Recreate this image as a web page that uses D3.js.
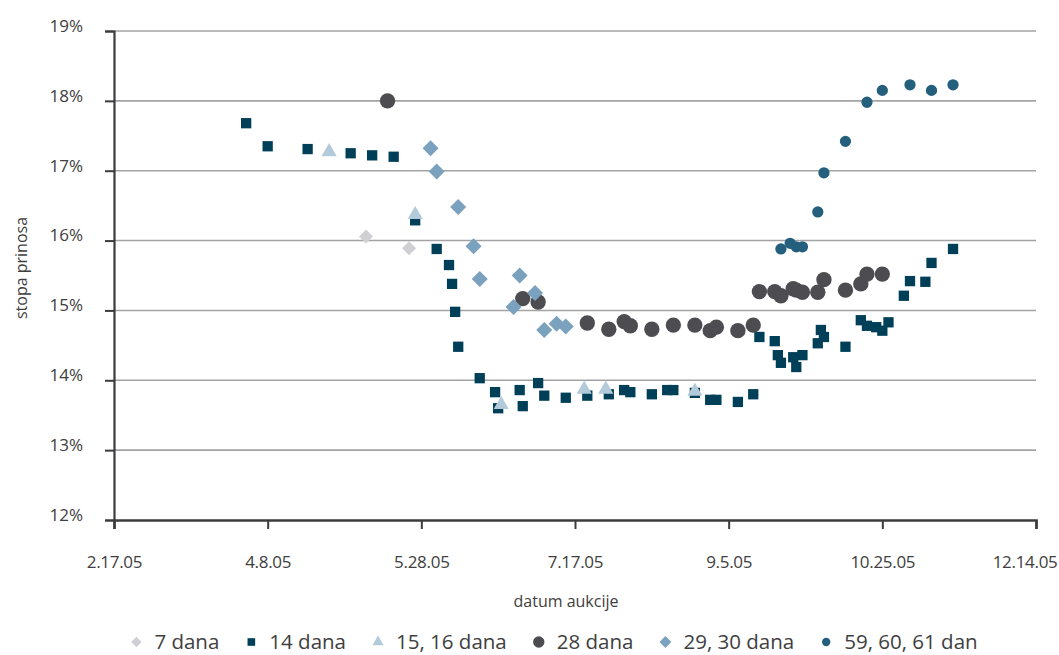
<!DOCTYPE html>
<html>
<head>
<meta charset="utf-8">
<script src="https://cdn.jsdelivr.net/npm/d3@7"></script>
<style>
  body { margin: 0; background: #fff; }
  text { font-family: "Open Sans", sans-serif; fill: #404040; }
</style>
</head>
<body>
<div class="chart"></div>
<script>

var margin = { top: 31, right: 23, bottom: 135, left: 114 },
  width = 1059 - margin.left - margin.right,
  height = 655 - margin.top - margin.bottom;

// auction dates and yields (%), one pair of arrays per maturity
var dates7 = ['2005-05-10', '2005-05-24'];
var rates7 = [16.06, 15.89];

var dates14 = ['2005-04-01', '2005-04-08', '2005-04-21', '2005-05-05', '2005-05-12', '2005-05-19',
  '2005-05-26', '2005-06-02', '2005-06-06', '2005-06-07', '2005-06-08', '2005-06-09',
  '2005-06-16', '2005-06-21', '2005-06-22', '2005-06-29', '2005-06-30', '2005-07-05',
  '2005-07-07', '2005-07-14', '2005-07-21', '2005-07-28', '2005-08-02', '2005-08-04',
  '2005-08-11', '2005-08-16', '2005-08-18', '2005-08-25', '2005-08-30', '2005-09-01',
  '2005-09-08', '2005-09-13', '2005-09-15', '2005-09-20', '2005-09-21', '2005-09-22',
  '2005-09-26', '2005-09-27', '2005-09-29', '2005-10-04', '2005-10-05', '2005-10-06',
  '2005-10-13', '2005-10-18', '2005-10-20', '2005-10-23', '2005-10-25', '2005-10-27',
  '2005-11-01', '2005-11-03', '2005-11-08', '2005-11-10', '2005-11-17'];
var rates14 = [17.68, 17.35, 17.31, 17.25, 17.22, 17.20,
  16.29, 15.88, 15.65, 15.38, 14.98, 14.48,
  14.03, 13.83, 13.60, 13.86, 13.63, 13.96,
  13.78, 13.75, 13.78, 13.80, 13.86, 13.83,
  13.80, 13.86, 13.86, 13.82, 13.72, 13.72,
  13.69, 13.80, 14.62, 14.56, 14.36, 14.25,
  14.33, 14.19, 14.36, 14.53, 14.72, 14.62,
  14.48, 14.86, 14.78, 14.76, 14.71, 14.83,
  15.21, 15.42, 15.41, 15.68, 15.88];

var dates15 = ['2005-04-28', '2005-05-26', '2005-06-23', '2005-07-20', '2005-07-27', '2005-08-25'];
var rates15 = [17.27, 16.37, 13.65, 13.87, 13.87, 13.84];

var dates28 = ['2005-05-17', '2005-06-30', '2005-07-05', '2005-07-21', '2005-07-28', '2005-08-02',
  '2005-08-04', '2005-08-11', '2005-08-18', '2005-08-25', '2005-08-30', '2005-09-01',
  '2005-09-08', '2005-09-13', '2005-09-15', '2005-09-20', '2005-09-22', '2005-09-26',
  '2005-09-27', '2005-09-29', '2005-10-04', '2005-10-06', '2005-10-13', '2005-10-18',
  '2005-10-20', '2005-10-25'];
var rates28 = [18.00, 15.17, 15.12, 14.82, 14.73, 14.84,
  14.78, 14.73, 14.79, 14.79, 14.71, 14.76,
  14.71, 14.79, 15.27, 15.27, 15.21, 15.31,
  15.29, 15.26, 15.26, 15.44, 15.29, 15.38,
  15.52, 15.52];

var dates29 = ['2005-05-31', '2005-06-02', '2005-06-09', '2005-06-14', '2005-06-16', '2005-06-27',
  '2005-06-29', '2005-07-04', '2005-07-07', '2005-07-11', '2005-07-14'];
var rates29 = [17.32, 16.99, 16.48, 15.92, 15.45, 15.05, 15.50, 15.25, 14.72, 14.81, 14.77];

var dates59 = ['2005-09-22', '2005-09-25', '2005-09-27', '2005-09-29', '2005-10-04', '2005-10-06',
  '2005-10-13', '2005-10-20', '2005-10-25', '2005-11-03', '2005-11-10', '2005-11-17'];
var rates59 = [15.88, 15.96, 15.91, 15.91, 16.41, 16.97, 17.42, 17.98, 18.15, 18.23, 18.15, 18.23];

var seriesNames = ['7 dana', '14 dana', '15, 16 dana', '28 dana', '29, 30 dana', '59, 60, 61 dan'];

var xTicks = ['2005-02-17', '2005-04-08', '2005-05-28', '2005-07-17', '2005-09-05', '2005-10-25', '2005-12-14'];
var yTicks = [12, 13, 14, 15, 16, 17, 18, 19];

var parse = d3.utcParse('%Y-%m-%d');

// marker look for each series (same order as seriesNames)
var styles = [
  { shape: 'diamond', size: 98, color: '#cfcfd4' },
  { shape: 'square', size: 106, color: '#003f58' },
  { shape: 'triangle', size: 100, color: '#b3cadb' },
  { shape: 'circle', size: 185, color: '#4c4c51' },
  { shape: 'diamond', size: 128, color: '#7aa1bd' },
  { shape: 'circle', size: 100, color: '#245f7d' }
];

var seriesDates = [dates7, dates14, dates15, dates28, dates29, dates59];
var seriesRates = [rates7, rates14, rates15, rates28, rates29, rates59];

var series = seriesNames.map(function (name, i) {
  return {
    name: name,
    style: styles[i],
    points: seriesDates[i].map(function (d, j) { return { date: parse(d), value: seriesRates[i][j] }; })
  };
});

var svg = d3.select('.chart').append('svg')
  .attr('width', width + margin.left + margin.right)
  .attr('height', height + margin.top + margin.bottom);

var g = svg.append('g')
  .attr('transform', 'translate(' + margin.left + ',' + margin.top + ')');

var x = d3.scaleUtc()
  .domain([parse(xTicks[0]), parse(xTicks[xTicks.length - 1])])
  .range([0, width]);

var y = d3.scaleLinear()
  .domain([12, 19])
  .range([height, 0]);

// horizontal gridlines
g.append('g')
  .selectAll('line')
  .data(yTicks.slice(1))
  .enter().append('line')
  .attr('x1', 0)
  .attr('x2', width)
  .attr('y1', function (d) { return y(d); })
  .attr('y2', function (d) { return y(d); })
  .style('stroke', '#a3a3a6')
  .style('stroke-width', 1.6);

// y axis
var yAxis = d3.axisLeft(y)
  .tickValues(yTicks)
  .tickSize(9)
  .tickPadding(22)
  .tickFormat(function (d) { return d + '%'; });

var yG = g.append('g').attr('class', 'y axis').call(yAxis);
yG.select('.domain').style('stroke', '#3c3c3e').style('stroke-width', 2.2);
yG.selectAll('.tick line').style('stroke', '#3c3c3e').style('stroke-width', 2);
yG.selectAll('.tick text')
  .attr('dy', '0.02em')
  .style('font-size', '17px')
  .style('fill', '#404040')
  .style('font-family', '"Open Sans", sans-serif');

// x axis
var xAxis = d3.axisBottom(x)
  .tickValues(xTicks.map(parse))
  .tickSize(9)
  .tickPadding(27)
  .tickFormat(d3.utcFormat('%-m.%-d.%y'));

var xG = g.append('g').attr('class', 'x axis')
  .attr('transform', 'translate(0,' + height + ')')
  .call(xAxis);
xG.select('.domain').style('stroke', '#3c3c3e').style('stroke-width', 2.6);
xG.selectAll('.tick line').style('stroke', '#3c3c3e').style('stroke-width', 2);
xG.selectAll('.tick text')
  .style('font-size', '17px')
  .style('letter-spacing', '-0.3px')
  .style('fill', '#404040')
  .style('font-family', '"Open Sans", sans-serif');

// last label would run off the right edge, pull it in
xG.selectAll('.tick:last-of-type text')
  .style('text-anchor', 'end')
  .attr('x', margin.right - 2);

// axis titles
svg.append('text')
  .attr('x', margin.left + width / 2 - 9)
  .attr('y', 607)
  .style('text-anchor', 'middle')
  .style('font-size', '16px')
  .text('datum aukcije');

svg.append('text')
  .attr('transform', 'translate(27,268)rotate(-90)')
  .style('text-anchor', 'middle')
  .style('font-size', '16px')
  .text('stopa prinosa');

function symbolPath(style, scale) {
  var type = style.shape === 'circle' ? d3.symbolCircle
    : style.shape === 'triangle' ? d3.symbolTriangle
    : d3.symbolSquare;
  return d3.symbol().type(type).size(style.size * (scale || 1))();
}

// markers
series.forEach(function (s) {
  g.append('g')
    .selectAll('path')
    .data(s.points)
    .enter().append('path')
    .attr('d', symbolPath(s.style))
    .attr('transform', function (d) {
      return 'translate(' + x(d.date) + ',' + y(d.value) + ')' +
        (s.style.shape === 'diamond' ? 'rotate(45)' : '');
    })
    .style('fill', s.style.color);
});

// legend
var legend = svg.append('g').attr('transform', 'translate(0,642)');
var items = legend.selectAll('g')
  .data(series)
  .enter().append('g');

items.append('path')
  .attr('d', function (d) { return symbolPath(d.style, 0.55); })
  .attr('transform', function (d) { return d.style.shape === 'diamond' ? 'rotate(45)' : ''; })
  .style('fill', function (d) { return d.style.color; });

items.append('text')
  .attr('x', 18)
  .attr('dy', '0.35em')
  .style('font-size', '20.5px')
  .text(function (d) { return d.name; });

var pos = 0, offsets = [];
items.each(function () {
  offsets.push(pos);
  pos += 18 + this.querySelector('text').getComputedTextLength() + 32;
});
var total = pos - 32;
var start = 557 - total / 2;
items.attr('transform', function (d, i) { return 'translate(' + (start + offsets[i]) + ',0)'; });

</script>
</body>
</html>
